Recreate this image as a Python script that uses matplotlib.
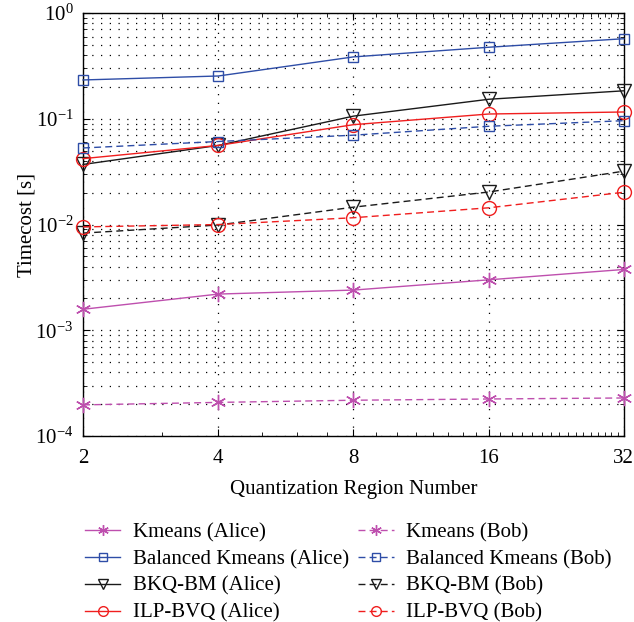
import numpy as np
import matplotlib.pyplot as plt
from matplotlib.ticker import LogLocator, NullFormatter, FixedLocator

plt.rcParams['font.family'] = ['Liberation Serif', 'DejaVu Serif']
plt.rcParams['mathtext.fontset'] = 'stix'

regions = [2, 4, 8, 16, 32]

kmeans_alice = [0.00158, 0.0022, 0.0024, 0.0030, 0.00376]
kmeans_bob = [0.000197, 0.000208, 0.000218, 0.000224, 0.000229]
balanced_alice = [0.233, 0.254, 0.385, 0.475, 0.572]
balanced_bob = [0.053, 0.061, 0.070, 0.085, 0.096]
bkq_alice = [0.037, 0.056, 0.106, 0.153, 0.184]
bkq_bob = [0.0083, 0.0099, 0.0146, 0.0203, 0.032]
ilp_alice = [0.042, 0.056, 0.088, 0.111, 0.116]
ilp_bob = [0.0095, 0.0100, 0.0116, 0.0144, 0.0202]

magenta = '#BE4FAE'
blue = '#2E4DA7'
black = '#1a1a1a'
red = '#F01E1E'

asterisk = (6, 2, 0)
sizes = {asterisk: 11, 's': 7.5, 'v': 10.5, 'o': 10}

fig = plt.figure(figsize=(6.34, 6.22), dpi=100)
ax = fig.add_axes([0.131, 0.299, 0.853, 0.68])

series = [
    (kmeans_alice, magenta, asterisk, '-', 'Kmeans (Alice)'),
    (balanced_alice, blue, 's', '-', 'Balanced Kmeans (Alice)'),
    (bkq_alice, black, 'v', '-', 'BKQ-BM (Alice)'),
    (ilp_alice, red, 'o', '-', 'ILP-BVQ (Alice)'),
    (kmeans_bob, magenta, asterisk, '--', 'Kmeans (Bob)'),
    (balanced_bob, blue, 's', '--', 'Balanced Kmeans (Bob)'),
    (bkq_bob, black, 'v', '--', 'BKQ-BM (Bob)'),
    (ilp_bob, red, 'o', '--', 'ILP-BVQ (Bob)'),
]

for vals, c, m, ls, lab in series:
    line, = ax.plot(regions, vals, color=c, linestyle=ls, linewidth=1.0,
                    marker=m, markersize=sizes[m], markerfacecolor='none',
                    markeredgecolor=c, markeredgewidth=1.0, label=lab,
                    clip_on=False, zorder=3)
    if ls == '--':
        line.set_dashes((5, 3))

ax.set_xscale('log', base=2)
ax.set_yscale('log')
ax.set_xlim(2, 32)
ax.set_ylim(1e-4, 1e0)
ax.xaxis.set_major_locator(FixedLocator(regions))
ax.set_xticklabels([str(r) for r in regions])
ax.xaxis.set_minor_locator(FixedLocator(np.arange(2, 33, 1)))
ax.xaxis.set_minor_formatter(NullFormatter())
ax.yaxis.set_major_locator(LogLocator(base=10, numticks=10))
ax.yaxis.set_minor_locator(LogLocator(base=10, subs=np.arange(2, 10), numticks=10))
ax.yaxis.set_minor_formatter(NullFormatter())

ax.tick_params(which='both', direction='in', top=True, right=True, labelsize=15)
ax.tick_params(which='major', length=5)
ax.tick_params(which='minor', length=3)
ax.tick_params(axis='y', which='major', pad=7)
ax.tick_params(axis='x', which='major', pad=9)

# sparse dotted grid
dots = (0, (1, 6))
ax.grid(True, which='major', axis='x', linestyle=dots, color='k', linewidth=0.9)
ax.grid(True, which='both', axis='y', linestyle=dots, color='k', linewidth=0.9)

for s in ax.spines.values():
    s.set_linewidth(1.0)

ax.set_xlabel('Quantization Region Number', fontsize=15, labelpad=9)
ax.set_ylabel('Timecost [s]', fontsize=15, labelpad=-1)

ax.legend(loc='upper left', bbox_to_anchor=(-0.012, -0.185), ncol=2,
          frameon=False, fontsize=15, handlelength=1.7, handletextpad=0.6,
          columnspacing=0.45, labelspacing=0.35, markerscale=0.7,
          borderaxespad=0)

fig.savefig('out.png', dpi=100)
